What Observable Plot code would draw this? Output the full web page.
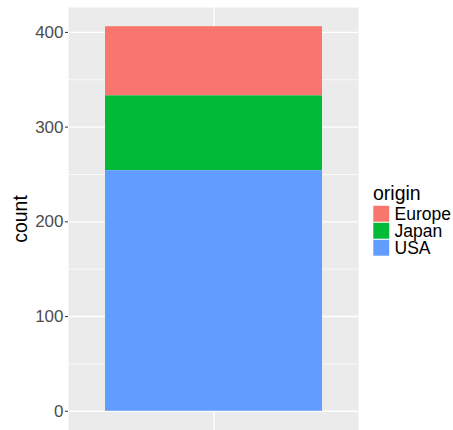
<!DOCTYPE html>
<html>
<head>
<meta charset="utf-8">
<script src="https://cdn.jsdelivr.net/npm/d3@7"></script>
<script src="https://cdn.jsdelivr.net/npm/@observablehq/plot@0.6"></script>
<style>
  html, body { margin: 0; padding: 0; background: white; }
  #wrap { position: relative; width: 453px; height: 430px; font-family: "Liberation Sans", Arial, Helvetica, sans-serif; }
  #legend { position: absolute; left: 365px; top: 175px; }
</style>
</head>
<body>
<div id="wrap"></div>
<script>
const categories = ["Europe", "Japan", "USA"];
const counts = [73, 79, 254];
const stackOrder = ["USA", "Japan", "Europe"];
const colors = ["#F8766D", "#00BA38", "#619CFF"];
const majorTicks = [0, 100, 200, 300, 400];
const minorTicks = [50, 150, 250, 350];
const legendTitle = "origin";
const yTitle = "count";

const data = categories.map((origin, i) => ({ group: "all", origin, count: counts[i] }));
const total = d3.sum(counts);
const pad = total * 0.05;

const chart = Plot.plot({
  width: 453,
  height: 430,
  marginLeft: 68,
  marginRight: 95,
  marginTop: 7,
  marginBottom: 0,
  style: { fontFamily: '"Liberation Sans", Arial, Helvetica, sans-serif', background: "white", overflow: "visible" },
  x: { type: "band", domain: ["all"], paddingInner: 0.1, paddingOuter: 0.15, axis: null },
  y: { domain: [-pad, total + pad], axis: null },
  color: { domain: categories, range: colors },
  marks: [
    Plot.frame({ fill: "#EBEBEB", stroke: null }),
    Plot.gridY(minorTicks, { stroke: "white", strokeOpacity: 1, strokeWidth: 0.7 }),
    Plot.gridY(majorTicks, { stroke: "white", strokeOpacity: 1, strokeWidth: 1.4 }),
    Plot.gridX({ stroke: "white", strokeOpacity: 1, strokeWidth: 1.4 }),
    Plot.barY(data, { x: "group", y: "count", fill: "origin", order: stackOrder, inset: 0 }),
    Plot.axisY(majorTicks, { tickSize: 3, tickPadding: 2, fontSize: 17, color: "#4D4D4D", stroke: "#333333", label: null }),
    Plot.text([yTitle], { frameAnchor: "left", dx: -48, rotate: -90, fontSize: 19.5, fill: "black", textAnchor: "middle" })
  ]
});

const wrap = document.getElementById("wrap");
wrap.appendChild(chart);

// legend
const lg = d3.select(wrap).append("svg")
  .attr("id", "legend")
  .attr("width", 88).attr("height", 90)
  .style("font-family", '"Liberation Sans", Arial, Helvetica, sans-serif');
lg.append("text").attr("x", 8).attr("y", 25).attr("font-size", 19.5).attr("fill", "black").text(legendTitle);
const items = lg.selectAll("g.item").data(categories).join("g")
  .attr("transform", (d, i) => `translate(8, ${30.5 + i * 17})`);
items.append("rect").attr("width", 16.5).attr("height", 16.5).attr("fill", (d, i) => colors[i])
  .attr("stroke", "white").attr("stroke-width", 0.6);
items.append("text").attr("x", 21.5).attr("y", 8.5).attr("dy", "0.36em")
  .attr("font-size", 17.5).attr("fill", "black").text(d => d);
</script>
</body>
</html>
